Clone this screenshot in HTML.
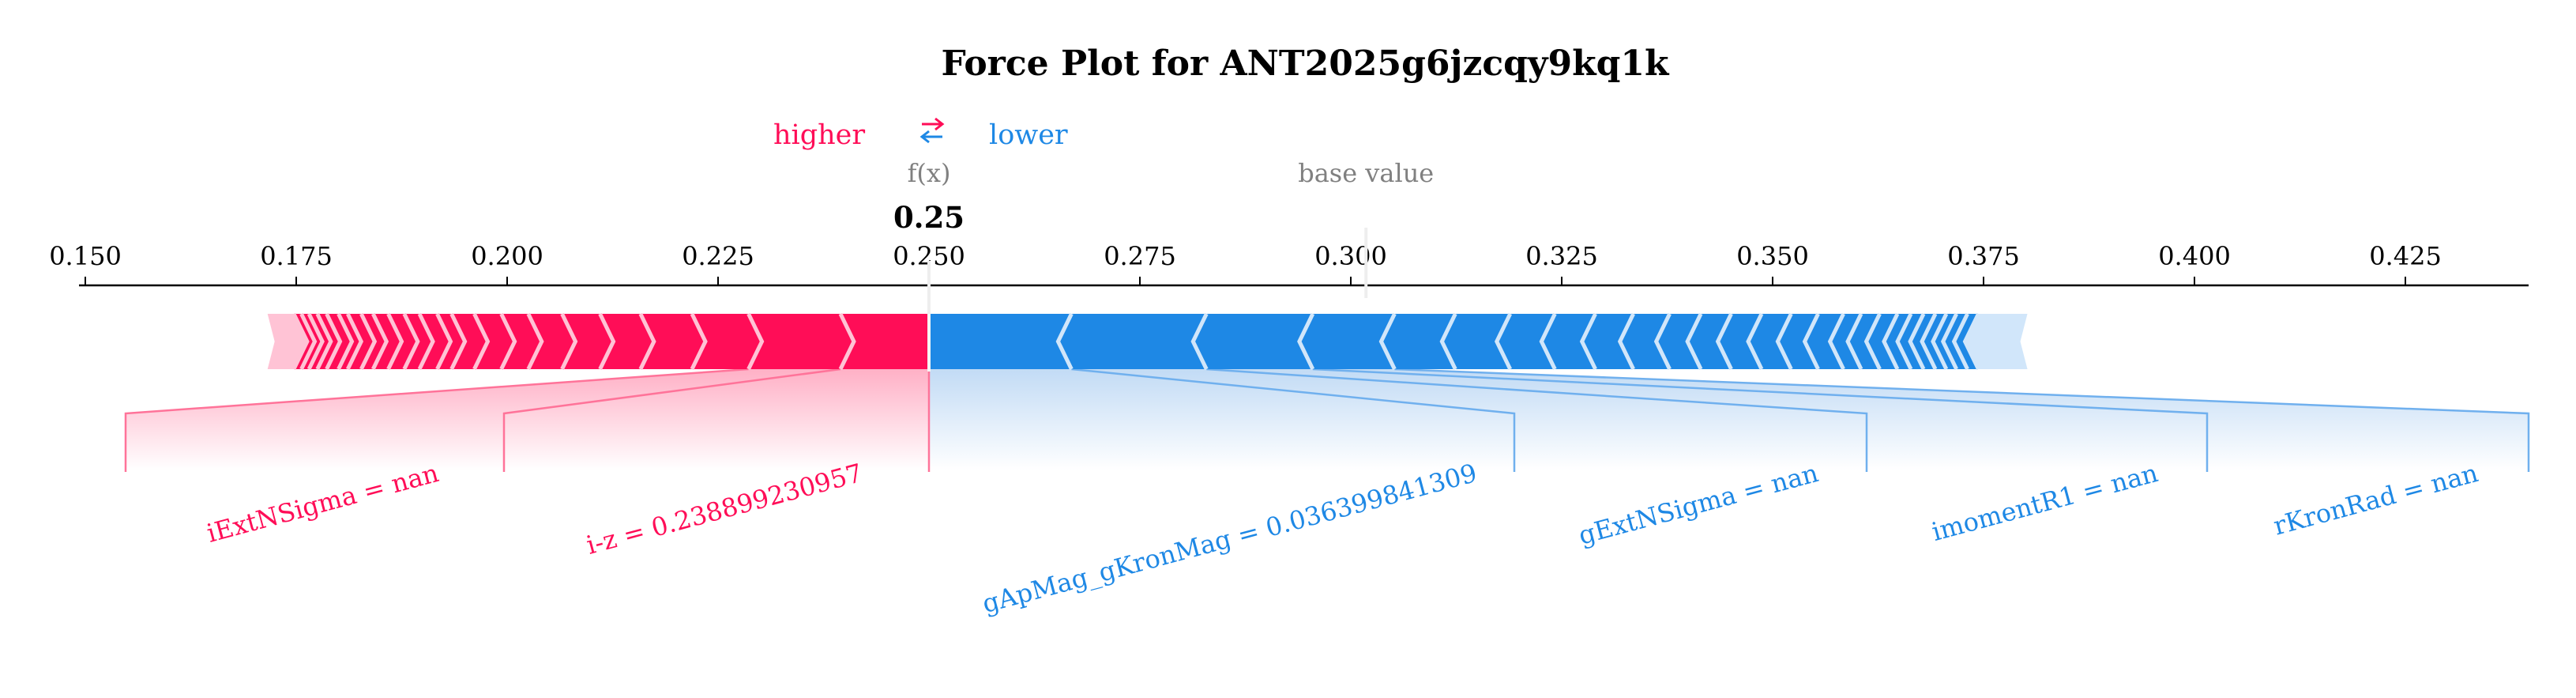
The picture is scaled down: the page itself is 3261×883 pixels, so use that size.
<!DOCTYPE html>
<html><head><meta charset="utf-8">
<style>
html,body{margin:0;padding:0;background:#fff;}
svg{display:block;font-family:"DejaVu Serif","Liberation Serif",serif;}
</style></head>
<body>
<svg id="chart" width="3261" height="883" viewBox="0 0 3261 883" xmlns="http://www.w3.org/2000/svg">
<defs>
<linearGradient id="gRed" gradientUnits="userSpaceOnUse" x1="0" y1="467" x2="0" y2="595">
<stop offset="0" stop-color="#ffb0c6"/><stop offset="1" stop-color="#ffffff"/></linearGradient>
<linearGradient id="gBlue" gradientUnits="userSpaceOnUse" x1="0" y1="467" x2="0" y2="595">
<stop offset="0" stop-color="#c2dbf5"/><stop offset="1" stop-color="#ffffff"/></linearGradient>
</defs>
<text x="1652" y="95" text-anchor="middle" font-size="44" font-weight="bold" fill="#000">Force Plot for ANT2025g6jzcqy9kq1k</text>
<text x="979" y="182" font-size="35" fill="#ff0d57">higher</text>
<g>
<line x1="1167" y1="157" x2="1192" y2="157" stroke="#ff0d57" stroke-width="3"/>
<polyline points="1184,150 1193,157 1184,164" fill="none" stroke="#ff0d57" stroke-width="3"/>
<line x1="1168" y1="173" x2="1193" y2="173" stroke="#1e88e5" stroke-width="3"/>
<polyline points="1176,166 1167,173 1176,180" fill="none" stroke="#1e88e5" stroke-width="3"/>
</g>
<text x="1252" y="182" font-size="35" fill="#1e88e5">lower</text>
<g id="plot"></g>
</svg>
<script>
const title = "Force Plot for ANT2025g6jzcqy9kq1k";
const fxValue = 0.25;
const redShap = [0.0089,0.0109,0.0067,0.0061,0.0048,0.0045,0.0040,0.0032,0.0032,0.0027,0.0017,0.0021,0.0018,0.0019,0.0018,0.0014,0.0016,0.0011,0.0014,0.0011,0.0010,0.0009,0.0009];
const redTail = 0.0047;
const blueShap = [0.0153,0.0160,0.0126,0.0097,0.0072,0.0065,0.0053,0.0048,0.0045,0.0043,0.0037,0.0036,0.0036,0.0035,0.0032,0.0030,0.0021,0.0022,0.0021,0.0016,0.0015,0.0014,0.0013,0.0012,0.0013,0.0013];
const blueTail = 0.0074;
const redLabels = ["i-z = 0.238899230957","iExtNSigma = nan"];
const blueLabels = ["gApMag_gKronMag = 0.036399841309","gExtNSigma = nan","imomentR1 = nan","rKronRad = nan"];
const tickValues = [0.150,0.175,0.200,0.225,0.250,0.275,0.300,0.325,0.350,0.375,0.400,0.425];
const tickLabels = ["0.150","0.175","0.200","0.225","0.250","0.275","0.300","0.325","0.350","0.375","0.400","0.425"];

const NS = "http://www.w3.org/2000/svg";
const plot = document.getElementById('plot');
const X0 = 108, PXU = 10680, XMIN = 0.15;
function x(v){ return X0 + (v - XMIN) * PXU; }
const TOP = 397, BOT = 467, MID = 432, O = 17, EO = 9, AXY = 361;
function mk(tag, attrs, parent){ const e = document.createElementNS(NS, tag); for (const k in attrs) e.setAttribute(k, attrs[k]); (parent||plot).appendChild(e); return e; }

const sum = a => a.reduce((s,v)=>s+v,0);
const redTotal = sum(redShap) + redTail;
const blueTotal = sum(blueShap) + blueTail;
const baseValue = fxValue - redTotal + blueTotal;

let ax = mk('line', {x1:100, y1:AXY, x2:3201, y2:AXY, stroke:'#000', 'stroke-width':2.5});


tickValues.forEach((v,i)=>{
  const t = mk('line', {x1:x(v), y1:350, x2:x(v), y2:AXY, stroke:'#000', 'stroke-width':2});
  
  
  const l = mk('text', {x:x(v), y:335, 'text-anchor':'middle', 'font-size':32, fill:'#000'});
  l.textContent = tickLabels[i];
  
  
});

const fx = x(fxValue), bx = x(baseValue);
let bl = mk('line', {x1:bx, y1:288, x2:bx, y2:377, stroke:'#eeeeee', 'stroke-width':4});


let fl = mk('line', {x1:fx, y1:330, x2:fx, y2:470, stroke:'#eeeeee', 'stroke-width':4});


let t1 = mk('text', {x:fx, y:230, 'text-anchor':'middle', 'font-size':32, fill:'#808080'}); t1.textContent='f(x)';


let t2 = mk('text', {x:bx, y:230, 'text-anchor':'middle', 'font-size':32, fill:'#808080'}); t2.textContent='base value';


let t3 = mk('text', {x:fx, y:288, 'text-anchor':'middle', 'font-size':37, 'font-weight':'bold', fill:'#000'}); t3.textContent=fxValue.toFixed(2);



const rB = [fx]; let acc = fxValue;
redShap.forEach(v=>{ acc -= v; rB.push(x(acc)); });
const redEnd = x(acc - redTail);
const bB = [fx]; acc = fxValue;
blueShap.forEach(v=>{ acc += v; bB.push(x(acc)); });
const blueEnd = x(acc + blueTail);

const redSlots = [[638,1176],[159,638]];
const blueSlots = [[1176,1917],[1917,2363],[2363,2794],[2794,3201]];

redLabels.forEach((lab,i)=>{
  const a = rB[i+1]-O, b = rB[i] - (i===0?0:O), s = redSlots[i];
  const p = mk('polygon', {points:`${a},${BOT} ${b},${BOT} ${s[1]},523 ${s[1]},597 ${s[0]},597 ${s[0]},523`, fill:'url(#gRed)'});
  
  
});
blueLabels.forEach((lab,i)=>{
  const a = bB[i] + (i===0?0:O), b = bB[i+1]+O, s = blueSlots[i];
  const p = mk('polygon', {points:`${a},${BOT} ${b},${BOT} ${s[1]},523 ${s[1]},597 ${s[0]},597 ${s[0]},523`, fill:'url(#gBlue)'});
  
  
});
redLabels.forEach((lab,i)=>{
  const s = redSlots[i];
  const l = mk('polyline', {points:`${rB[i+1]-O},${BOT} ${s[0]},523 ${s[0]},597`, fill:'none', stroke:'#ff7399', 'stroke-width':2.5});
  
  
});
blueLabels.forEach((lab,i)=>{
  const s = blueSlots[i];
  const l = mk('polyline', {points:`${bB[i+1]+O},${BOT} ${s[1]},523 ${s[1]},597`, fill:'none', stroke:'#70b0ee', 'stroke-width':2.5});
  
  
});
let fl2 = mk('line', {x1:fx, y1:BOT, x2:fx, y2:597, stroke:'#ff7399', 'stroke-width':2.5});



const rLast = rB[rB.length-1];
let rt = mk('polygon', {points:`${redEnd},${TOP} ${rLast-O},${TOP} ${rLast},${MID} ${rLast-O},${BOT} ${redEnd},${BOT} ${redEnd+EO},${MID}`, fill:'#ffc3d5'});


let rm = mk('polygon', {points:`${rLast-O},${TOP} ${fx},${TOP} ${fx},${BOT} ${rLast-O},${BOT} ${rLast},${MID}`, fill:'#ff0d57'});


for (let i=1;i<rB.length;i++){
  const b = rB[i];
  const s = mk('polyline', {points:`${b-O},${TOP} ${b},${MID} ${b-O},${BOT}`, fill:'none', stroke:'#ffc3d5', 'stroke-width':5});
  
  
}
const bLast = bB[bB.length-1];
let bt = mk('polygon', {points:`${bLast+O},${TOP} ${blueEnd},${TOP} ${blueEnd-EO},${MID} ${blueEnd},${BOT} ${bLast+O},${BOT} ${bLast},${MID}`, fill:'#d1e6fa'});


let bm = mk('polygon', {points:`${fx},${TOP} ${bLast+O},${TOP} ${bLast},${MID} ${bLast+O},${BOT} ${fx},${BOT}`, fill:'#1e88e5'});


for (let i=1;i<bB.length;i++){
  const b = bB[i];
  const s = mk('polyline', {points:`${b+O},${TOP} ${b},${MID} ${b+O},${BOT}`, fill:'none', stroke:'#d1e6fa', 'stroke-width':5});
  
  
}
let sep = mk('line', {x1:fx, y1:TOP, x2:fx, y2:BOT+3, stroke:'#f5f5f5', 'stroke-width':4});



const ANG = 15 * Math.PI/180;
function placeLabel(txt, slot, color){
  const cx = (slot[0]+slot[1])/2 + 10;
  const t = mk('text', {x:0, y:0, 'text-anchor':'middle', 'dominant-baseline':'central', 'font-size':32, fill:color});
  t.textContent = txt;
  const L = t.getComputedTextLength();
  const h = 36;
  const cy = 580 + (L*Math.sin(ANG) + h*Math.cos(ANG))/2;
  t.setAttribute('transform', `translate(${cx},${cy}) rotate(-15)`);
  return t;
}
redLabels.forEach((lab,i)=>{
  const t = placeLabel(lab, redSlots[i], '#ff0d57');
  
  
});
blueLabels.forEach((lab,i)=>{
  const t = placeLabel(lab, blueSlots[i], '#1e88e5');
  
  
});
</script>
</body></html>
